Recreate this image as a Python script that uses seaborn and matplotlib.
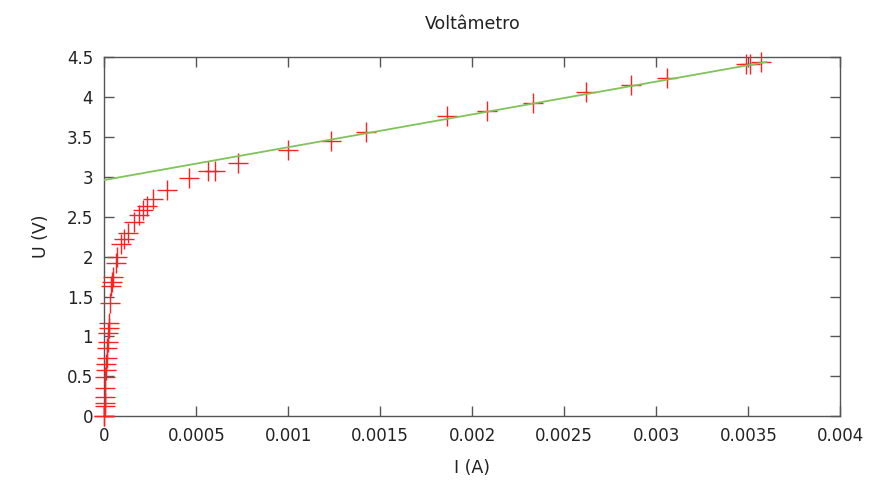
import numpy as np
import pandas as pd
import seaborn as sns
import matplotlib
matplotlib.use("Agg")
import matplotlib.pyplot as plt

current = [0.0, 0.0, 0.0000027, 0.0000027, 0.000003, 0.000003, 0.000003,
           0.000008, 0.000008, 0.000014, 0.000014, 0.00002, 0.00002,
           0.000024, 0.000024, 0.00003, 0.000035, 0.00004, 0.000046,
           0.000063, 0.000068, 0.00009, 0.000106, 0.000128, 0.00016,
           0.000188, 0.00021, 0.00023, 0.000264, 0.00034, 0.00046,
           0.000563, 0.0006, 0.000726, 0.001, 0.00123, 0.00142, 0.00186,
           0.00208, 0.00233, 0.00262, 0.00286, 0.00306, 0.00349, 0.00351,
           0.00357]
voltage = [0.0, 0.0, 0.125, 0.16, 0.24, 0.36, 0.49,
           0.58, 0.66, 0.73, 0.86, 0.93, 1.04,
           1.10, 1.17, 1.42, 1.63, 1.68, 1.75,
           1.92, 1.99, 2.16, 2.22, 2.29, 2.43,
           2.52, 2.58, 2.64, 2.72, 2.84, 2.98,
           3.07, 3.07, 3.17, 3.33, 3.45, 3.56, 3.76,
           3.82, 3.92, 4.06, 4.15, 4.24, 4.41, 4.41,
           4.44]

# linear fit shown in green
fit_current = [0.0, 0.0036]
fit_voltage = [2.96, 4.44]

df = pd.DataFrame({"I": current, "U": voltage})
fit = pd.DataFrame({"I": fit_current, "U": fit_voltage})

sns.set_style("ticks")
plt.rcParams["font.family"] = ["DejaVu Sans"]

fig, ax = plt.subplots(figsize=(8.69, 4.84), dpi=100)
fig.subplots_adjust(left=0.12, right=0.967, top=0.882, bottom=0.140)

sns.scatterplot(x="I", y="U", data=df, marker="+", s=190, color="#ff2020",
                linewidth=1.0, ax=ax, zorder=3, clip_on=False)
sns.lineplot(x="I", y="U", data=fit, color="#80c35a", linewidth=1.3,
             ax=ax, zorder=4)

ax.set_xlim(0, 0.004)
ax.set_ylim(0, 4.5)
ax.set_xticks(np.arange(0, 0.0041, 0.0005))
ax.set_xticklabels(["0", "0.0005", "0.001", "0.0015", "0.002", "0.0025",
                    "0.003", "0.0035", "0.004"])
ax.set_yticks(np.arange(0, 4.51, 0.5))
ax.set_yticklabels(["0", "0.5", "1", "1.5", "2", "2.5", "3", "3.5", "4", "4.5"])
ax.tick_params(direction="in", length=7, width=1, colors="#555555",
               labelcolor="#222222", labelsize=12, top=True, right=True,
               pad=8)
for s in ax.spines.values():
    s.set_color("#555555")
    s.set_linewidth(1.0)

ax.set_title("Voltâmetro", fontsize=12.5, color="#222222", pad=20)
ax.set_xlabel("I (A)", fontsize=12.5, color="#222222", labelpad=10)
ax.set_ylabel("U (V)", fontsize=12.5, color="#222222", labelpad=12)

fig.savefig("out.png", dpi=100)
